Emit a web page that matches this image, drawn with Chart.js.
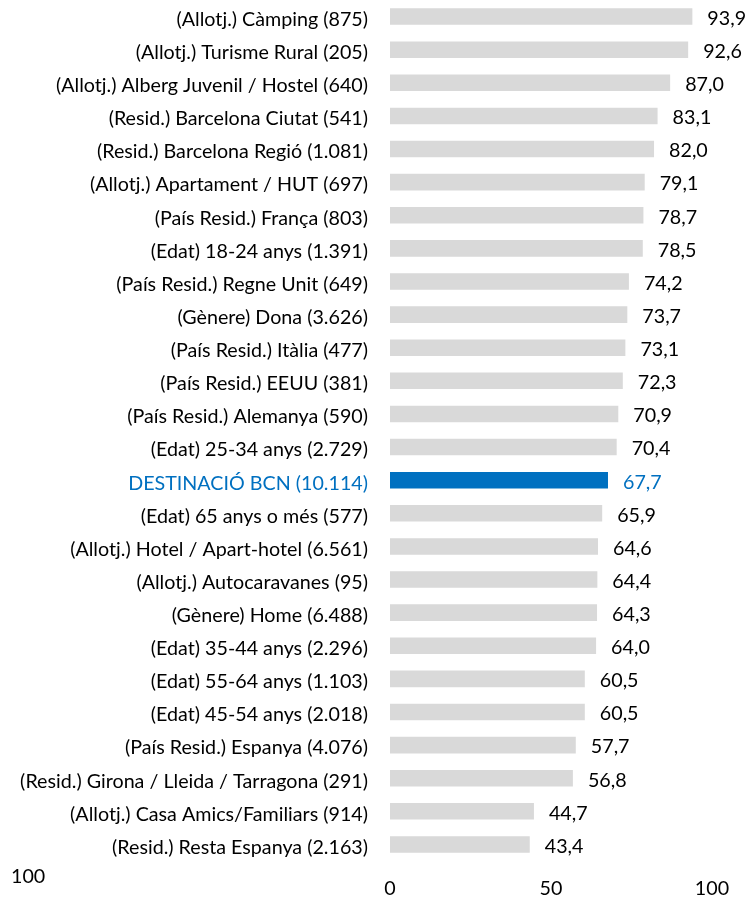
<!DOCTYPE html>
<html>
<head>
<meta charset="utf-8">
<script src="https://cdn.jsdelivr.net/npm/chart.js@4/dist/chart.umd.min.js"></script>
<style>
  html, body { margin: 0; padding: 0; background: #fff; }
  #wrap { position: relative; width: 749px; height: 898px; }
  #corner { position: absolute; left: 11px; top: 864px; font: 19.7px Lato, sans-serif; line-height: 24px; color: #000; }
</style>
</head>
<body>
<div id="wrap">
  <canvas id="chart" width="749" height="898"></canvas>
  <div id="corner">100</div>
</div>
<script>
const categories = [
  '(Allotj.) Càmping (875)',
  '(Allotj.) Turisme Rural (205)',
  '(Allotj.) Alberg Juvenil / Hostel (640)',
  '(Resid.) Barcelona Ciutat (541)',
  '(Resid.) Barcelona Regió (1.081)',
  '(Allotj.) Apartament / HUT (697)',
  '(País Resid.) França (803)',
  '(Edat) 18-24 anys (1.391)',
  '(País Resid.) Regne Unit (649)',
  '(Gènere) Dona (3.626)',
  '(País Resid.) Itàlia (477)',
  '(País Resid.) EEUU (381)',
  '(País Resid.) Alemanya (590)',
  '(Edat) 25-34 anys (2.729)',
  'DESTINACIÓ BCN (10.114)',
  '(Edat) 65 anys o més (577)',
  '(Allotj.) Hotel / Apart-hotel (6.561)',
  '(Allotj.) Autocaravanes (95)',
  '(Gènere) Home (6.488)',
  '(Edat) 35-44 anys (2.296)',
  '(Edat) 55-64 anys (1.103)',
  '(Edat) 45-54 anys (2.018)',
  '(País Resid.) Espanya (4.076)',
  '(Resid.) Girona / Lleida / Tarragona (291)',
  '(Allotj.) Casa Amics/Familiars (914)',
  '(Resid.) Resta Espanya (2.163)'
];
const values = [93.9, 92.6, 87.0, 83.1, 82.0, 79.1, 78.7, 78.5, 74.2, 73.7, 73.1, 72.3, 70.9, 70.4,
  67.7, 65.9, 64.6, 64.4, 64.3, 64.0, 60.5, 60.5, 57.7, 56.8, 44.7, 43.4];
const highlight = 'DESTINACIÓ BCN (10.114)';
const xTicks = [0, 50, 100];

const GREY = '#d9d9d9';
const BLUE = '#0070c0';
const TEXT = '#000000';
const FONT = 'Lato, sans-serif';
const FONT_SIZE = 19.7;

const barColors = categories.map(c => c === highlight ? BLUE : GREY);
const textColors = categories.map(c => c === highlight ? BLUE : TEXT);

// value labels to the right of each bar, decimal comma
const valueLabels = {
  id: 'valueLabels',
  afterDatasetsDraw(chart) {
    const ctx = chart.ctx;
    const meta = chart.getDatasetMeta(0);
    ctx.save();
    ctx.font = FONT_SIZE + 'px ' + FONT;
    ctx.textAlign = 'left';
    ctx.textBaseline = 'middle';
    meta.data.forEach((bar, i) => {
      ctx.fillStyle = textColors[i];
      ctx.fillText(values[i].toFixed(1).replace('.', ','), bar.x + 15, bar.y + 2);
    });
    ctx.restore();
  }
};

new Chart(document.getElementById('chart').getContext('2d'), {
  type: 'bar',
  data: {
    labels: categories,
    datasets: [{
      data: values,
      backgroundColor: barColors,
      borderWidth: 0,
      barPercentage: 0.5,
      categoryPercentage: 1.0
    }]
  },
  options: {
    indexAxis: 'y',
    responsive: false,
    animation: false,
    layout: { padding: { top: 0, right: 37, bottom: 0, left: 0 } },
    plugins: {
      legend: { display: false },
      tooltip: { enabled: false }
    },
    scales: {
      x: {
        min: 0,
        max: 100,
        afterBuildTicks(scale) {
          scale.ticks = xTicks.map(v => ({ value: v }));
        },
        afterFit(scale) { scale.height = 37; },
        grid: { display: false, drawTicks: false },
        border: { display: false },
        ticks: {
          font: { family: FONT, size: FONT_SIZE },
          color: TEXT,
          padding: 16,
          maxRotation: 0
        }
      },
      y: {
        afterFit(scale) {
          scale.width = 390;
          scale.paddingTop = 0;
          scale.paddingBottom = 0;
        },
        grid: { display: false, drawTicks: true, tickLength: 22 },
        border: { display: false },
        ticks: {
          font: { family: FONT, size: FONT_SIZE },
          color: textColors,
          padding: 0,
          labelOffset: 3,
          autoSkip: false
        }
      }
    }
  },
  plugins: [valueLabels]
});
</script>
</body>
</html>
